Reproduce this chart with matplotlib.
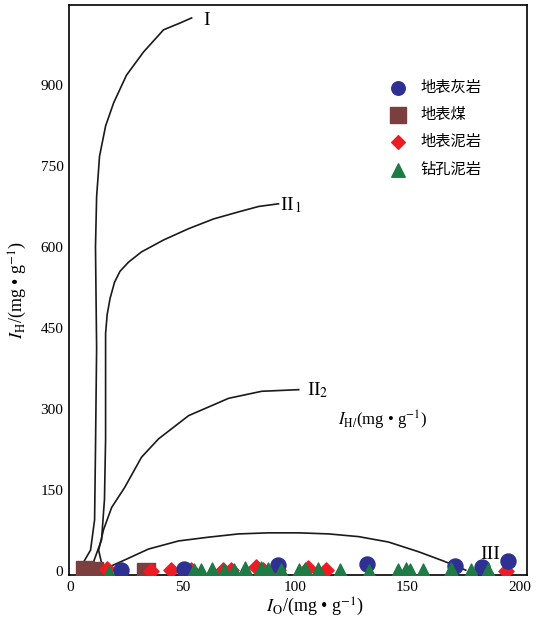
import matplotlib
matplotlib.use("Agg")
import matplotlib.pyplot as plt

plt.rcParams['font.family'] = ['Liberation Serif', 'DejaVu Serif']
plt.rcParams['mathtext.fontset'] = 'stix'

# kerogen type boundary curves
curve_I_x = [5.8, 8.9, 10.7, 11.1, 11.6, 11.1, 11.6, 12.9, 15.6, 19.2, 24.9, 32.5, 41.4, 49.0, 53.9]
curve_I_y = [17, 39, 95, 226, 413, 600, 693, 768, 824, 867, 918, 961, 1002, 1015, 1024]

curve_II1_x = [10.2, 13.8, 15.1, 15.6, 15.6, 15.6, 16.3, 17.6, 19.6, 22.0, 25.8, 31.6, 41.4, 52.6, 63.7, 74.8, 83.7, 92.6]
curve_II1_y = [17, 58, 133, 245, 376, 440, 475, 505, 535, 555, 572, 591, 613, 634, 652, 665, 675, 680]

curve_II2_x = [13.8, 12.5, 14.7, 18.3, 24.1, 31.6, 39.2, 52.6, 70.4, 85.1, 101.6]
curve_II2_y = [15, 39, 77, 118, 155, 211, 245, 288, 320, 333, 336]

curve_III_x = [17.8, 25.8, 34.7, 48.1, 61.5, 74.8, 88.2, 101.6, 115.0, 128.3, 141.6, 155.0, 166.0, 176.0]
curve_III_y = [9, 24, 41, 56, 63, 69, 71, 71, 69, 64, 54, 36, 19, 2]

# samples
limestone_x = [22.3, 50.5, 92.3, 132.1, 171.1, 183.3, 195.0]
limestone_y = [2, 5, 11, 13, 9, 8, 19]

coal_x = [6.5, 10.5, 33.5]
coal_y = [3, 0, -1]

mud_x = [16.4, 35.7, 44.6, 53.6, 67.7, 71.4, 82.6, 85.6, 92.3, 105.7, 113.8, 193.8]
mud_y = [5, 1, 2, 2, 2, 2, 7, 3, 3, 6, 2, 0]

core_x = [17.1, 55.0, 58.0, 62.8, 68.4, 72.6, 77.7, 84.8, 88.1, 93.8, 101.9, 104.5,
          110.1, 120.2, 132.7, 145.8, 149.5, 151.0, 157.0, 169.3, 178.3, 186.0]
core_y = [-3, 1, 1, 2, 1, 1, 4, 4, 2, 1, 1, 3,
          2, 0, -1, 1, 2, 1, 0, 2, 0, 1]

fig = plt.figure(figsize=(5.45, 6.21), dpi=100)
ax = fig.add_axes([0.1266, 0.0741, 0.8404, 0.9179])

for cx, cy in [(curve_I_x, curve_I_y), (curve_II1_x, curve_II1_y),
               (curve_II2_x, curve_II2_y), (curve_III_x, curve_III_y)]:
    ax.plot(cx, cy, color='#1a1a1a', lw=1.2, zorder=2)

ax.scatter(coal_x, coal_y, marker='s', s=150, color='#7b3f3f', label='地表煤', zorder=3)
ax.scatter(mud_x, mud_y, marker='D', s=60, color='#ed1c24', label='地表泥岩', zorder=3)
ax.scatter(limestone_x, limestone_y, marker='o', s=117, color='#2e3192', label='地表灰岩', zorder=4)
ax.scatter(core_x, core_y, marker='^', s=117, color='#1e7b45', label='钻孔泥岩', zorder=5)

ax.text(59.0, 1020, 'I', fontsize=14, va='center')
ax.text(93.3, 678, r'II$_{\,1}$', fontsize=14, va='center')
ax.text(105.4, 335, r'II$_2$', fontsize=14, va='center')
ax.text(182.5, 30, 'III', fontsize=14, va='center')
ax.text(119, 280, r'$I_{\mathrm{H/}}$(mg • g$^{-1}$)', fontsize=12, va='center')

ax.set_xlim(-0.7, 203.3)
ax.set_ylim(-7, 1048)
ax.set_xticks([0, 50, 100, 150, 200])
ax.set_yticks([0, 150, 300, 450, 600, 750, 900])
ax.tick_params(length=0, labelsize=11, pad=4)
for sp in ax.spines.values():
    sp.set_linewidth(1.2)

ax.set_xlabel(r'$I_{\mathrm{O}}$/(mg • g$^{-1}$)', fontsize=13)
ax.xaxis.set_label_coords(0.537, -0.037)
ax.set_ylabel(r'$I_{\mathrm{H}}$/(mg • g$^{-1}$)', fontsize=13)
ax.yaxis.set_label_coords(-0.088, 0.5)

handles, labels = ax.get_legend_handles_labels()
order = [2, 0, 1, 3]
ax.legend([handles[i] for i in order], [labels[i] for i in order],
          loc='upper left', bbox_to_anchor=(0.655, 0.895), frameon=False,
          prop={'family': ['Noto Sans CJK SC', 'DejaVu Sans'], 'size': 11},
          labelspacing=0.68, handletextpad=0.5, markerscale=0.9)

fig.savefig('out.png', dpi=100)
